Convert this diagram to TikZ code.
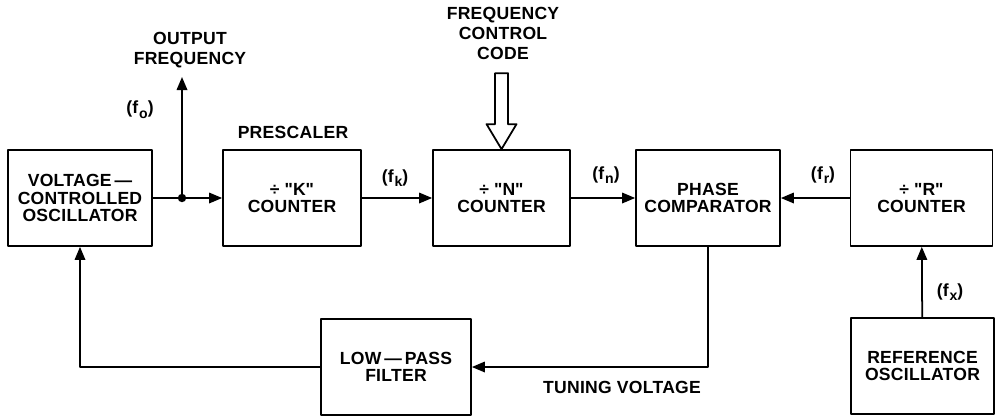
\documentclass[tikz,border=0pt]{standalone}
\usepackage{fontspec}
\setmainfont{Liberation Sans}[LetterSpace=1.5]
\usetikzlibrary{arrows.meta}
\newcommand{\fsig}[1]{(f\kern0.5pt\raisebox{-0.5ex}{\footnotesize #1})}
\newcommand{\qt}[1]{\textquotedbl#1\textquotedbl}
\tikzset{
  blk/.style={draw, line width=1pt, minimum height=1.92cm, align=center,
    font=\fontsize{10}{9.8}\selectfont\bfseries},
  lbl/.style={align=center, font=\fontsize{10}{11.4}\selectfont\bfseries},
  wire/.style={line width=1pt, ->}
}
\begin{document}
\begin{tikzpicture}[x=0.02cm, y=-0.02cm, line join=round, >={Triangle[length=2.6mm,width=2.1mm]}]
  \useasboundingbox (0,0) rectangle (997,416);
  % Blocs du haut
  \node[blk, minimum width=2.88cm] (vco) at (80,198) {VOLTAGE\,—\\CONTROLLED\\OSCILLATOR};
  \node[blk, minimum width=2.76cm] (kcnt) at (292,198) {÷ \qt{K}\\COUNTER};
  \node[blk, minimum width=2.74cm] (ncnt) at (501.5,198) {÷ \qt{N}\\COUNTER};
  \node[blk, minimum width=2.88cm] (phcmp) at (708,198) {PHASE\\COMPARATOR};
  \node[blk, minimum width=2.84cm] (rcnt) at (921.5,198) {÷ \qt{R}\\COUNTER};
  % Blocs du bas
  \node[blk, minimum width=3.00cm] (lpf) at (396,367) {LOW\,—\,PASS\\FILTER};
  \node[blk, minimum width=2.86cm] (refosc) at (922.5,366) {REFERENCE\\OSCILLATOR};
  % Sortie et liaisons
  \coordinate (jn) at (182,198);
  \coordinate (otip) at (182,77);
  \draw[line width=1pt] (vco) -- (jn);
  \draw[wire] (jn) -- (kcnt);
  \draw[wire] (jn) -- (otip);
  \fill (jn) circle[radius=2.4pt];
  \draw[wire] (kcnt) -- (ncnt);
  \draw[wire] (ncnt) -- (phcmp);
  \draw[wire] (rcnt) -- (phcmp);
  \draw[wire] (phcmp.south) |- (lpf.east);
  \draw[wire] (lpf.west) -| (vco.south);
  \draw[wire] (refosc) -- (rcnt);
  % Fleche creuse du code
  \draw[line width=1pt, fill=white] (ncnt.north) -- ++(-15,-25) -- ++(8.5,0) -- ++(0,-51)
    -- ++(13,0) -- ++(0,51) -- ++(8.5,0) -- cycle;
  % Textes
  \node[lbl] (outfreq) at (190,50) {OUTPUT\\FREQUENCY};
  \node[lbl] (fcc) at (503,33) {FREQUENCY\\CONTROL\\CODE};
  \node[lbl] (presc) at (293,132) {PRESCALER};
  \node[lbl] (fo) at (140,110) {\fsig{o}};
  \node[lbl] (fk) at (395,178) {\fsig{k}};
  \node[lbl] (fn) at (606,175) {\fsig{n}};
  \node[lbl] (fr) at (823,175) {\fsig{r}};
  \node[lbl] (fx) at (950,292) {\fsig{x}};
  \node[lbl] (tune) at (622,387) {TUNING VOLTAGE};
\end{tikzpicture}
\end{document}
